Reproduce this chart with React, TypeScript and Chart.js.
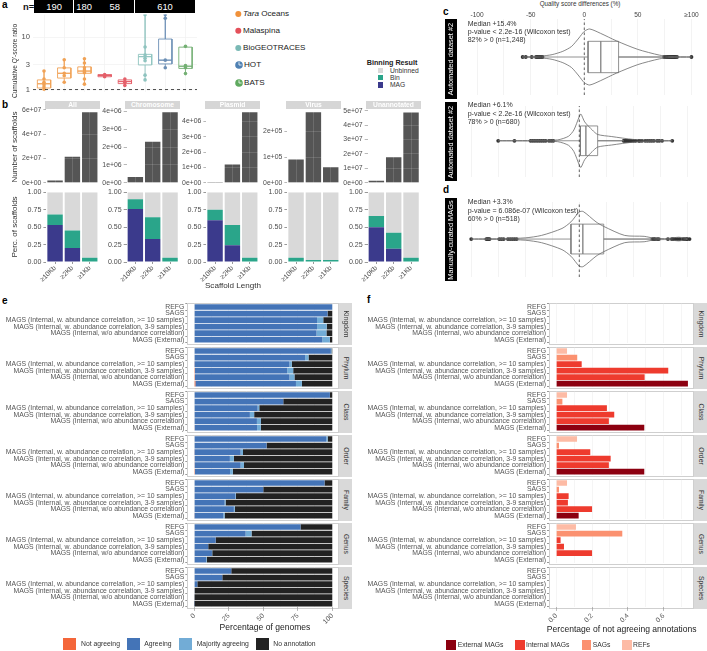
import React, { useEffect, useRef } from "react";
import { Chart, registerables } from "chart.js";

Chart.register(...registerables);
const FONT = '"Liberation Sans", Arial, sans-serif';
Chart.defaults.font.family = FONT;

// ---------- panel a ----------
const aLow = [1.0, 1.38, 1.27, 1.74, 1.2, 1.48, 2.6, 2.02];
const aQ1 = [1.07, 1.66, 2.05, 1.76, 1.3, 2.96, 3.1, 2.54];
const aMedian = [1.29, 2.05, 2.26, 1.86, 1.42, 4.27, 3.66, 2.8];
const aQ3 = [1.53, 2.6, 2.72, 1.94, 1.53, 4.73, 9.3, 6.5];
const aHigh = [2.27, 3.72, 3.88, 1.98, 1.6, 27.2, 27.6, 6.73];
const aColors = ["#f0a256", "#f0a256", "#f0a256", "#e4606a", "#e4606a", "#8fc4c0", "#6c8fb5", "#74b074"];
const aPoints = [
  [2.27, 1.59, 1.38, 1.24, 1.12, 1.01],
  [3.72, 2.61, 2.05, 1.84, 1.38],
  [3.88, 3.23, 2.61, 2.37, 2.2, 2.11, 1.59, 1.27],
  [1.94, 1.86, 1.76],
  [1.59, 1.42, 1.38, 1.2],
  [27.2, 6.54, 4.6, 3.99, 3.56, 1.89, 1.53],
  [27.6, 23.3, 3.66, 2.61],
  [6.73, 2.88, 2.61, 2.02],
];
const aTicks = [1, 3, 10];
const nGroups = [
  { n: "190", x0: 34.3, x1: 74 },
  { n: "180", x0: 74, x1: 94.3 },
  { n: "58", x0: 94.3, x1: 135 },
  { n: "610", x0: 135, x1: 195 },
];
const cruises = ["Malaspina", "BioGEOTRACES"];

// ---------- panel b ----------
const lengthLabels = ["≥10Kb", "≥2Kb", "≥1Kb"];
const bNames = ["All", "Chromosome", "Plasmid", "Virus", "Unannotated"];
const bCounts = [
  [1.9e6, 2.14e7, 5.8e7],
  [0.33e6, 2.3e6, 3.95e6],
  [0.06e6, 1.19e6, 4.6e6],
  [0.9e5, 2.73e5, 0.6e5],
  [1.4e6, 1.77e7, 4.88e7],
];
const bMax = [6.1e7, 4.155e6, 4.85e6, 2.877e5, 5.15e7];
const bTicks = [
  [0, 2e7, 4e7, 6e7],
  [0, 1e6, 2e6, 3e6, 4e6],
  [0, 1e6, 2e6, 3e6, 4e6],
  [0, 1e5, 2e5],
  [0, 1e7, 2e7, 3e7, 4e7, 5e7],
];
const bMag = [
  [0.53, 0.2, 0],
  [0.76, 0.33, 0],
  [0.6, 0.24, 0],
  [0, 0, 0],
  [0.5, 0.19, 0],
];
const bBin = [
  [0.15, 0.25, 0.06],
  [0.14, 0.31, 0.06],
  [0.15, 0.29, 0.06],
  [0.06, 0.03, 0.03],
  [0.16, 0.23, 0.06],
];
const bPercTicks = [0, 0.25, 0.5, 0.75, 1];
const bLeft = [46.4, 126.7, 206.4, 287.4, 367.7];
const bStripLeft = [45, 125, 205, 286, 366];

// ---------- panels c, d ----------
const qualityTicks = [-100, -75, -50, -25, 0, 25, 50, 75, 100];
const violin1X = [-58, -40, -30, -20, -12, -5, 0, 5, 15, 30, 50, 70, 80, 100];
const violin1H = [0.2, 1, 2.5, 6, 11, 20, 27, 29.5, 25, 17, 8, 2, 0.6, 0.2];
const violin2X = [-75, -40, -20, -10, -5, 0, 1.5, 5, 12, 17, 30, 50, 70, 86];
const violin2H = [0.2, 0.4, 1, 5, 12, 27, 29.7, 21, 12, 7, 4.7, 1.5, 0.5, 0.2];
const violin3X = [-100, -70, -50, -35, -16, -7.7, 0, 3.6, 15.5, 22.6, 42, 60, 69, 82, 92, 100];
const violin3H = [0.2, 0.6, 1.3, 4, 11.7, 19, 30, 30.5, 19, 14, 4, 3, 1, 0.6, 2, 0.3];
const box1 = [-39, 3.5, 15.4, 32, 74];
const box2 = [-24, 1, 6.1, 17, 41];
const box3 = [-58, -7.7, 3.3, 22.6, 67];
const outliers1 = [-57.5, -54.6, -49, -45, -44, -43, -42, -41, -40, -39, 74.5, 76, 77, 78, 79, 80, 81, 82, 83, 84, 85, 86.5, 100];
const outliers2 = [-75, -60, -45, -43, -41, -39, -37, -35, -33, -31, -28, -26, -24, 41, 42, 43, 44, 45, 46, 47, 48, 50, 52, 55, 56, 58, 61, 63, 65, 67, 69, 72, 74, 76.6, 86];
const outliers3 = [-100, -86, -85, -84, -83, -74, -72, -70, -66, -64, -62, -60, -58, 67.6, 69, 70, 72, 73.6, 82, 85.6, 87, 89, 91, 93, 96, 97.5, 99, 100, 102];

// ---------- panels e, f ----------
const facets = ["Kingdom", "Phylum", "Class", "Order", "Family", "Genus", "Species"];
const genomeLabels = [
  "REFG",
  "SAGS",
  "MAGS (Internal, w. abundance correlation, >= 10 samples)",
  "MAGS (Internal, w. abundance correlation, 3-9 samples)",
  "MAGS (Internal, w/o abundance correlation)",
  "MAGS (External)",
];
const eNotAgreeing = [
  [0, 0, 0, 0, 0, 0],
  [0, 0, 0.2, 0.5, 0.5, 0.8],
  [0, 0, 0, 0, 0, 0.3],
  [0, 0, 0.2, 0.3, 0.3, 0.5],
  [0, 0, 0, 0, 0, 0.2],
  [0, 0, 0, 0, 0, 0],
  [0, 0, 0, 0, 0, 0],
];
const eAgreeing = [
  [100, 96.6, 89, 89, 88.6, 92.8],
  [99, 80.4, 68.8, 66.9, 68.5, 72.9],
  [98.3, 64.5, 45.9, 40.3, 45.4, 45.2],
  [95.7, 52.4, 33.4, 25.5, 33.3, 25.5],
  [94.4, 50, 29.7, 22, 28.7, 20.8],
  [77, 37.2, 15.5, 10.1, 12.8, 8.5],
  [26.8, 20.3, 2.2, 0.3, 0.2, 0.1],
];
const eMajority = [
  [0, 0, 4.5, 7, 7.2, 5.5],
  [0.5, 2.4, 1.7, 4.3, 3.6, 4.3],
  [0, 0, 1.2, 3.1, 2.9, 2.7],
  [1, 0, 1.7, 2.9, 2.4, 1.9],
  [0, 0, 0.5, 0.7, 0.7, 1],
  [0, 4.3, 0, 0, 0.2, 0.5],
  [0, 0, 0, 0, 0, 0],
];
const eNoAnnotation = [
  [0, 3.4, 6.5, 4, 4.2, 1.7],
  [0.5, 17.2, 29.3, 28.3, 27.4, 22],
  [1.7, 35.5, 52.9, 56.6, 51.7, 51.8],
  [3.3, 47.6, 64.7, 71.3, 64, 72.1],
  [5.6, 50, 69.8, 77.3, 70.6, 78],
  [23, 58.5, 84.5, 89.9, 87, 91],
  [73.2, 79.7, 97.8, 99.7, 99.8, 99.9],
];
const eTicks = [0, 12.5, 25, 37.5, 50, 62.5, 75, 87.5, 100];
const fValues = [
  [0, 0, 0, 0, 0, 0],
  [0.06, 0.117, 0.142, 0.626, 0.494, 0.736],
  [0.06, 0.034, 0.283, 0.324, 0.294, 0.492],
  [0.116, 0.015, 0.19, 0.304, 0.294, 0.492],
  [0.06, 0.015, 0.069, 0.065, 0.2, 0.125],
  [0.11, 0.369, 0.024, 0.043, 0.2, 0],
  [0, 0, 0, 0, 0, 0],
];
const fColors = ["#fdbba5", "#fb9170", "#ee3b2e", "#ee3b2e", "#ee3b2e", "#8c0010"];
const fTicks = [0, 0.1, 0.2, 0.3, 0.4, 0.5, 0.6, 0.7];

// ---------- helpers ----------
const TICK = "#4d4d4d";
const setTicks = (vals: number[]) => (s: any) => {
  s.ticks = vals.map((value) => ({ value }));
};
const boxPath = (x: number, s: number[], w: number) => [
  { x, y: s[0] }, { x, y: s[1] }, { x: x - w, y: s[1] }, { x: x - w, y: s[2] }, { x: x + w, y: s[2] },
  { x: x - w, y: s[2] }, { x: x - w, y: s[3] }, { x, y: s[3] }, { x, y: s[4] }, { x, y: s[3] },
  { x: x + w, y: s[3] }, { x: x + w, y: s[1] }, { x, y: s[1] },
];
const hBoxPath = (s: number[], h: number) => [
  { x: s[0], y: 0 }, { x: s[1], y: 0 }, { x: s[1], y: -h }, { x: s[2], y: -h }, { x: s[2], y: h },
  { x: s[2], y: -h }, { x: s[3], y: -h }, { x: s[3], y: 0 }, { x: s[4], y: 0 }, { x: s[3], y: 0 },
  { x: s[3], y: h }, { x: s[1], y: h }, { x: s[1], y: 0 },
];
const violinPath = (xs: number[], hs: number[]) => [
  ...xs.map((x, i) => ({ x, y: hs[i] })),
  ...xs.map((x, i) => ({ x, y: -hs[i] })).reverse(),
];

function Plot({ rect, m, config, xTop }: any) {
  const ref = useRef<HTMLCanvasElement>(null);
  const [x0, y0, x1, y1] = rect;
  const [ml, mt, mr, mb] = m;
  const left = Math.floor(x0 - ml);
  const top = Math.floor(y0 - mt);
  const W = Math.ceil(x1 + mr) - left;
  const H = Math.ceil(y1 + mb) - top;
  const padL = x0 - left;
  const padT = y0 - top;
  const padR = left + W - x1;
  const padB = top + H - y1;
  useEffect(() => {
    const o = config.options || {};
    const sx = o.scales.x;
    const sy = o.scales.y;
    const yShown = sy.display !== false;
    sy.afterFit = (s: any) => { s.width = padL; };
    sx.afterFit = (s: any) => { s.height = xTop ? padT : padB; };
    const chart = new Chart(ref.current!, {
      ...config,
      options: {
        ...o,
        animation: false,
        responsive: false,
        maintainAspectRatio: false,
        layout: { padding: { left: yShown ? 0 : padL, top: xTop ? 0 : padT, right: padR, bottom: xTop ? padB : 0 } },
        plugins: { legend: { display: false }, tooltip: { enabled: false } },
      },
    });
    return () => chart.destroy();
  }, []);
  return <canvas ref={ref} width={W} height={H} style={{ position: "absolute", left, top, width: W, height: H }} />;
}

function T({ x, y, size = 7, color = "#222", bold, anchor = "left", rot, children }: any) {
  const tx = anchor === "left" ? "0" : anchor === "right" ? "-100%" : "-50%";
  return (
    <div
      style={{
        position: "absolute", left: x, top: y, fontSize: size, color, fontWeight: bold ? "bold" : "normal",
        whiteSpace: "nowrap", lineHeight: 1, transform: `translate(${tx},-50%)${rot ? ` rotate(${rot}deg)` : ""}`,
        fontFamily: FONT,
      }}
    >
      {children}
    </div>
  );
}
function R({ x, y, w, h, c, border }: any) {
  return <div style={{ position: "absolute", left: x, top: y, width: w, height: h, background: c, border, boxSizing: "border-box" }} />;
}
function Clock({ x, y, c }: any) {
  return (
    <svg style={{ position: "absolute", left: x - 4, top: y - 4 }} width={8} height={8}>
      <circle cx={4} cy={4} r={3.8} fill={c} />
      <path d="M4 1.2V4H6.6" stroke="#fff" strokeWidth={0.8} fill="none" />
    </svg>
  );
}

// ---------- chart configs ----------
const configA = () => ({
  type: "scatter",
  data: {
    datasets: [
      { data: [{ x: 0.455, y: 1 }, { x: 8.57, y: 1 }], showLine: true, pointRadius: 0, borderColor: "#222", borderWidth: 0.8, borderDash: [3, 3] },
      ...aColors.map((c, i) => ({
        data: boxPath(i + 1, [aLow[i], aQ1[i], aMedian[i], aQ3[i], aHigh[i]], 0.33),
        showLine: true, pointRadius: 0, borderColor: c, borderWidth: 0.9, tension: 0,
      })),
      ...aColors.map((c, i) => ({
        data: aPoints[i].map((y) => ({ x: i + 1, y })),
        pointRadius: 1.8, backgroundColor: c, borderWidth: 0,
      })),
    ],
  },
  options: {
    scales: {
      x: {
        type: "linear", min: 0.455, max: 8.57, afterBuildTicks: setTicks([1, 2, 3, 4, 5, 6, 7, 8]),
        ticks: { display: false }, grid: { color: "#f0f0f0", lineWidth: 0.7, drawTicks: false }, border: { display: false },
      },
      y: {
        type: "logarithmic", min: 0.88, max: 27.4, afterBuildTicks: setTicks(aTicks),
        ticks: { color: TICK, font: { size: 7.6 }, padding: 3, callback: (v: number) => String(v) },
        grid: { color: "#f0f0f0", lineWidth: 0.7, drawTicks: false }, border: { display: false },
      },
    },
  },
});

const configBTop = (i: number) => ({
  type: "bar",
  data: {
    labels: lengthLabels,
    datasets: [{ data: bCounts[i], backgroundColor: "#555555", barPercentage: 1, categoryPercentage: 0.89 }],
  },
  options: {
    scales: {
      x: {
        ticks: { display: false }, border: { display: false },
        grid: { offset: false, drawTicks: false, color: "rgba(255,255,255,0.2)", lineWidth: 0.7, z: 1 },
      },
      y: {
        min: 0, max: bMax[i], afterBuildTicks: setTicks(bTicks[i]), border: { display: false },
        ticks: {
          color: TICK, font: { size: 6.9 }, padding: 2,
          callback: (v: number) => v.toExponential(0).replace(/e\+(\d)$/, "e+0$1"),
        },
        grid: { tickLength: 3, tickColor: "#999", color: "rgba(255,255,255,0.2)", lineWidth: 0.7, z: 1 },
      },
    },
  },
});

const configBBottom = (i: number) => ({
  type: "bar",
  data: {
    labels: lengthLabels,
    datasets: [
      { data: bMag[i], backgroundColor: "#3b3a8c" },
      { data: bBin[i], backgroundColor: "#2aa58a" },
      { data: bMag[i].map((v, k) => 1 - v - bBin[i][k]), backgroundColor: "#d9d9d9" },
    ].map((d) => ({ ...d, barPercentage: 1, categoryPercentage: 0.89 })),
  },
  options: {
    scales: {
      x: {
        stacked: true, border: { display: false },
        ticks: { color: TICK, font: { size: 6.8 }, minRotation: 45, maxRotation: 45, padding: 0, autoSkip: false },
        grid: { offset: false, color: "transparent", tickLength: 2, tickColor: "#999" },
      },
      y: {
        stacked: true, min: 0, max: 1, afterBuildTicks: setTicks(bPercTicks), border: { display: false },
        ticks: { color: TICK, font: { size: 7.1 }, padding: 2, callback: (v: number) => v.toFixed(2) },
        grid: { tickLength: 3, tickColor: "#999", color: "transparent" },
      },
    },
  },
});

const configViolin = (vx: number[], vh: number[], box: number[], out: number[], yMin: number, yMax: number, labelled: boolean) => ({
  type: "scatter",
  data: {
    datasets: [
      { data: [{ x: 0, y: yMin }, { x: 0, y: yMax }], showLine: true, pointRadius: 0, borderColor: "#222", borderWidth: 0.7, borderDash: [2.5, 2.5] },
      { data: violinPath(vx, vh), showLine: true, pointRadius: 0, borderColor: "#6a6a6a", borderWidth: 0.8, tension: 0.25 },
      { data: hBoxPath(box, 16.5), showLine: true, pointRadius: 0, borderColor: "#777", borderWidth: 0.8 },
      { data: out.map((x) => ({ x, y: 0 })), pointRadius: 1.9, backgroundColor: "#333", borderWidth: 0 },
    ],
  },
  options: {
    scales: {
      x: {
        type: "linear", position: labelled ? "top" : "bottom", min: -108.5, max: 108.9,
        afterBuildTicks: setTicks(qualityTicks), border: { display: false },
        ticks: {
          display: labelled, color: "#444", font: { size: 6.6 }, padding: 0, maxRotation: 0, autoSkip: false,
          callback: (v: number) => (v === 100 ? "≥100" : Math.abs(v) % 50 === 0 ? String(v) : ""),
        },
        grid: { color: "#eeeeee", lineWidth: 0.7, drawTicks: false },
      },
      y: { display: false, min: yMin, max: yMax },
    },
  },
});

const labelAxis = () => ({
  border: { display: false },
  ticks: { color: "#555", font: { size: 6.87 }, padding: 1, autoSkip: false },
  grid: { display: true, color: "transparent", tickLength: 2, tickColor: "#999" },
});

const configE = (i: number, last: boolean) => ({
  type: "bar",
  data: {
    labels: genomeLabels,
    datasets: [
      { data: eNotAgreeing[i], backgroundColor: "#f4663a" },
      { data: eAgreeing[i], backgroundColor: "#4474b7" },
      { data: eMajority[i], backgroundColor: "#72acd6" },
      { data: eNoAnnotation[i], backgroundColor: "#222222" },
    ].map((d) => ({ ...d, barPercentage: 1, categoryPercentage: 0.87 })),
  },
  options: {
    indexAxis: "y",
    scales: {
      x: {
        stacked: true, min: -5.07, max: 104.9, afterBuildTicks: setTicks(eTicks), border: { display: false },
        ticks: {
          display: last, color: "#555", font: { size: 6.8 }, minRotation: 45, maxRotation: 45, padding: 1, autoSkip: false,
          callback: (v: number) => (v % 25 === 0 ? String(v) : ""),
        },
        grid: { color: "#f0f0f0", lineWidth: 0.7, drawTicks: last, tickLength: 4, tickColor: (c: any) => (c.tick && c.tick.value % 25 === 0 ? "#999" : "transparent") },
      },
      y: { stacked: true, ...labelAxis() },
    },
  },
});

const configF = (i: number, last: boolean) => ({
  type: "bar",
  data: {
    labels: genomeLabels,
    datasets: [{ data: fValues[i], backgroundColor: fColors, barPercentage: 1, categoryPercentage: 0.87 }],
  },
  options: {
    indexAxis: "y",
    scales: {
      x: {
        min: -0.0408, max: 0.77, afterBuildTicks: setTicks(fTicks), border: { display: false },
        ticks: {
          display: last, color: "#555", font: { size: 6.8 }, minRotation: 45, maxRotation: 45, padding: 1, autoSkip: false,
          callback: (v: number) => (Math.round(v * 10) % 2 === 0 && v < 0.65 ? v.toFixed(1) : ""),
        },
        grid: { color: "#f0f0f0", lineWidth: 0.7, drawTicks: last, tickLength: 4, tickColor: (c: any) => (c.tick && Math.round(c.tick.value * 10) % 2 === 0 && c.tick.value < 0.65 ? "#999" : "transparent") },
      },
      y: labelAxis(),
    },
  },
});

const facetTop = (i: number) => 303.3 + i * 44;

export default function App() {
  return (
    <div style={{ position: "absolute", left: 0, top: 0, width: 707, height: 651, overflow: "hidden", background: "#fff" }}>
      {/* letters */}
      <T x={2} y={5} size={10} bold color="#000">a</T>
      <T x={2} y={105} size={10} bold color="#000">b</T>
      <T x={443} y={12} size={10} bold color="#000">c</T>
      <T x={443} y={189.5} size={10} bold color="#000">d</T>
      <T x={2} y={301} size={10} bold color="#000">e</T>
      <T x={367} y={300} size={10} bold color="#000">f</T>

      {/* panel a */}
      <T x={23} y={6.5} size={9.4} bold color="#111">n=</T>
      {nGroups.map((g) => (
        <React.Fragment key={g.n}>
          <R x={g.x0} y={0} w={g.x1 - g.x0 - 0.5} h={12.7} c="#000" />
          <T x={(g.x0 + g.x1) / 2} y={6.8} size={9.4} anchor="center" color="#fff">{g.n}</T>
        </React.Fragment>
      ))}
      <Plot rect={[33, 13, 197, 94]} m={[33, 6, 4, 6]} config={configA()} />
      <T x={14.5} y={60.8} size={6.6} anchor="center" rot={-90} color="#333">Cumulative Q'-score ratio</T>

      <svg style={{ position: "absolute", left: 232, top: 8 }} width={12} height={50}>
        <circle cx={6.3} cy={6} r={3} fill="#f0913a" />
        <circle cx={6.3} cy={22.7} r={3} fill="#e4505a" />
        <circle cx={6.3} cy={40} r={3} fill="#7ab9b5" />
      </svg>
      <T x={243} y={14} size={8.1}><i>Tara</i> Oceans</T>
      <T x={243} y={30.7} size={8.1}>{cruises[0]}</T>
      <T x={243} y={48} size={8.1}>{cruises[1]}</T>
      <Clock x={238.5} y={65} c="#4f81b3" />
      <T x={244} y={65} size={8.1}>HOT</T>
      <Clock x={238.5} y={83} c="#5fa95f" />
      <T x={244} y={83} size={8.1}>BATS</T>

      <T x={366.7} y={63} size={7.2} bold color="#222">Binning Result</T>
      <R x={377.7} y={67.8} w={5.6} h={5.6} c="#d9d9d9" />
      <R x={377.7} y={74.9} w={5.6} h={5.6} c="#2aa58a" />
      <R x={377.7} y={82.1} w={5.6} h={5.6} c="#3b3a8c" />
      <T x={390} y={70.7} size={6.7} color="#333">Unbinned</T>
      <T x={390} y={77.7} size={6.7} color="#333">Bin</T>
      <T x={390} y={85} size={6.7} color="#333">MAG</T>

      {/* panel b */}
      {bNames.map((name, i) => (
        <React.Fragment key={name}>
          <R x={bStripLeft[i]} y={101} w={55} h={7.5} c="#d6d6d6" />
          <T x={bStripLeft[i] + 27.5} y={105} size={6.7} bold anchor="center" color="#fff">{name}</T>
          <Plot rect={[bLeft[i], 108.5, bLeft[i] + 52, 183.3]} m={[32, 6, 4, 5]} config={configBTop(i)} />
          <Plot rect={[bLeft[i], 191, bLeft[i] + 52, 262]} m={[32, 5, 4, 24]} config={configBBottom(i)} />
        </React.Fragment>
      ))}
      <T x={14.7} y={147} size={8} anchor="center" rot={-90} color="#333">Number of scaffolds</T>
      <T x={14.7} y={227} size={8} anchor="center" rot={-90} color="#333">Perc. of scaffolds</T>
      <T x={233} y={286} size={8.1} anchor="center" color="#333">Scaffold Length</T>

      {/* panels c d */}
      <T x={580} y={4} size={6.3} anchor="center" color="#333">Quality score differences (%)</T>
      <Plot rect={[458, 19, 701, 99]} m={[10, 11, 6, 0]} xTop config={configViolin(violin1X, violin1H, box1, outliers1, -40, 40, true)} />
      <Plot rect={[458, 102, 701, 181]} m={[0, 0, 0, 0]} config={configViolin(violin2X, violin2H, box2, outliers2, -40.3, 38.7, false)} />
      <Plot rect={[458, 198, 701, 281]} m={[0, 0, 0, 0]} config={configViolin(violin3X, violin3H, box3, outliers3, -42, 41, false)} />
      <R x={445} y={19} w={12} h={80} c="#000" />
      <R x={445} y={102} w={12} h={79} c="#000" />
      <R x={445} y={198} w={12} h={83} c="#000" />
      <T x={451} y={59} size={7.4} anchor="center" rot={-90} color="#fff">Automated dataset #2</T>
      <T x={451} y={141.5} size={7.4} anchor="center" rot={-90} color="#fff">Automated dataset #2</T>
      <T x={451} y={239.5} size={7.4} anchor="center" rot={-90} color="#fff">Manually-curated MAGs</T>
      <T x={467.7} y={22.7} size={7} color="#333">Median +15.4%</T>
      <T x={467.7} y={31} size={7} color="#333">{"p-value < 2.2e-16 (Wilcoxon test)"}</T>
      <T x={467.7} y={39} size={7} color="#333">{"82% > 0 (n=1,248)"}</T>
      <T x={467.7} y={104.3} size={7} color="#333">Median +6.1%</T>
      <T x={467.7} y={112.7} size={7} color="#333">{"p-value < 2.2e-16 (Wilcoxon test)"}</T>
      <T x={467.7} y={121.3} size={7} color="#333">{"78% > 0 (n=680)"}</T>
      <T x={467.7} y={201.3} size={7} color="#333">Median +3.3%</T>
      <T x={467.7} y={209.7} size={7} color="#333">p-value = 6.086e-07 (Wilcoxon test)</T>
      <T x={467.7} y={217.7} size={7} color="#333">{"60% > 0 (n=518)"}</T>

      {/* panels e f */}
      {facets.map((name, i) => {
        const t = facetTop(i);
        const last = i === facets.length - 1;
        return (
          <React.Fragment key={name}>
            <R x={187.3} y={t} w={151.7} h={41.6} c="#fff" border="1px solid #cfcfcf" />
            <R x={339} y={t} w={13} h={41.6} c="#d9d9d9" />
            <T x={345.5} y={t + 20.8} size={6.8} anchor="center" rot={90} color="#333">{name}</T>
            <Plot rect={[187.3, t + 0.45, 339, t + 39.65]} m={[187, 6, 8, last ? 22 : 6]} config={configE(i, last)} />
            <R x={549} y={t} w={145} h={41.6} c="transparent" border="1px solid #cfcfcf" />
            <R x={694} y={t} w={13} h={41.6} c="#d9d9d9" />
            <T x={700.5} y={t + 20.8} size={6.8} anchor="center" rot={90} color="#333">{name}</T>
            <Plot rect={[549, t + 0.45, 694, t + 39.65]} m={[190, 6, 8, last ? 22 : 6]} config={configF(i, last)} />
          </React.Fragment>
        );
      })}
      <T x={265} y={626.7} size={8.55} anchor="center" color="#222">Percentage of genomes</T>
      <T x={621.7} y={628.7} size={8.55} anchor="center" color="#222">Percentage of not agreeing annotations</T>

      <R x={63.3} y={637.7} w={12.7} h={12.3} c="#f4663a" />
      <T x={81} y={643.7} size={6.8} color="#333">Not agreeing</T>
      <R x={127.3} y={637.7} w={12.7} h={12.3} c="#4474b7" />
      <T x={144.3} y={643.7} size={6.8} color="#333">Agreeing</T>
      <R x={179.3} y={637.7} w={12.7} h={12.3} c="#72acd6" />
      <T x={196.7} y={643.7} size={6.8} color="#333">Majority agreeing</T>
      <R x={256.3} y={637.7} w={12.7} h={12.3} c="#222222" />
      <T x={273.3} y={643.7} size={6.8} color="#333">No annotation</T>

      <R x={446.3} y={640} w={9.7} h={10} c="#8c0010" />
      <T x={457.7} y={645} size={6.8} color="#333">External MAGs</T>
      <R x={515.3} y={640} w={9.4} h={10} c="#ee3b2e" />
      <T x={526} y={645} size={6.8} color="#333">Internal MAGs</T>
      <R x={581.7} y={640} w={9.4} h={10} c="#fb9170" />
      <T x={592.7} y={645} size={6.8} color="#333">SAGs</T>
      <R x={622} y={640} w={9.7} h={10} c="#fdbba5" />
      <T x={633} y={645} size={6.8} color="#333">REFs</T>
    </div>
  );
}
